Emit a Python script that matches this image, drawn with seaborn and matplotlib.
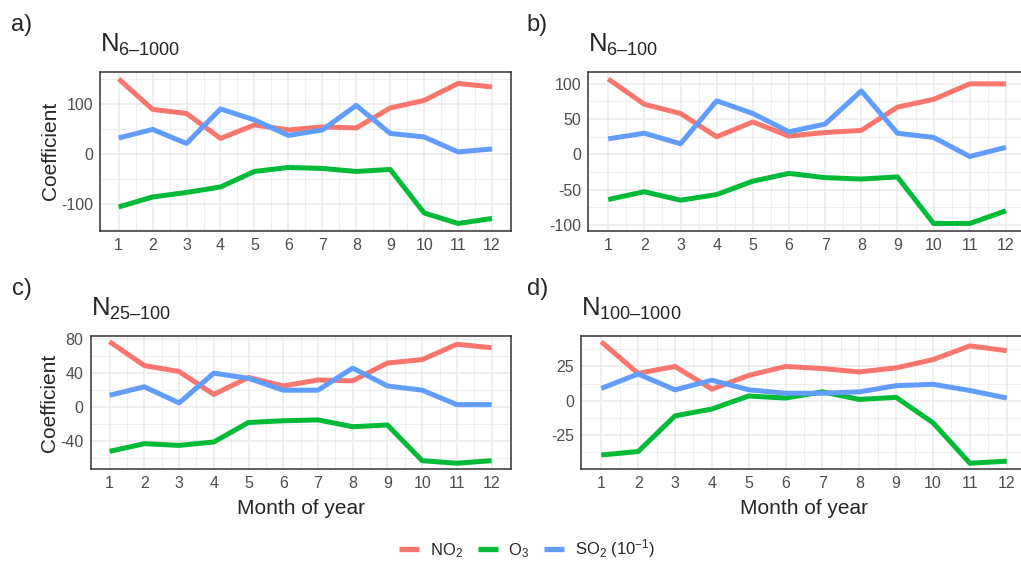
import numpy as np
import pandas as pd
import matplotlib
matplotlib.use("Agg")
import matplotlib.pyplot as plt
from matplotlib.lines import Line2D
import seaborn as sns

# ---------------- data ----------------
months = list(range(1, 13))
pollutants = ["NO2", "O3", "SO2"]

no2_a = [151, 90, 82, 32, 59, 49, 55, 53, 93, 108, 142, 135]
o3_a = [-105, -85, -76, -65, -34, -26, -28, -34, -30, -117, -138, -128]
so2_a = [33, 50, 22, 91, 69, 38, 49, 98, 42, 35, 5, 11]

no2_b = [107, 71, 58, 25, 46, 26, 31, 34, 67, 78, 100, 100]
o3_b = [-64, -53, -65, -57, -38, -27, -33, -35, -32, -98, -98, -80]
so2_b = [22, 30, 15, 76, 58, 32, 43, 90, 30, 24, -3, 10]

no2_c = [77, 49, 42, 15, 35, 25, 32, 31, 52, 56, 74, 70]
o3_c = [-52, -43, -45, -41, -18, -16, -15, -23, -21, -63, -66, -63]
so2_c = [14, 24, 5, 40, 34, 20, 20, 46, 25, 20, 3, 3]

no2_d = [43, 20, 25, 8.5, 18.5, 25, 23.5, 21, 24, 30, 40, 36.5]
o3_d = [-39.5, -37, -11, -6, 3.5, 2, 6.5, 1, 2.5, -16, -45.5, -44]
so2_d = [9, 19.5, 8, 15, 8, 5.5, 5.5, 6.5, 11, 12, 7.5, 2]

size_ranges = ["6\u20131000", "6\u2013100", "25\u2013100", "100\u20131000"]
titles = ["N$_{\\mathregular{" + s + "}}$" for s in size_ranges]
panel_tags = ["a)", "b)", "c)", "d)"]
yticks_major = [[-100, 0, 100], [-100, -50, 0, 50, 100], [-40, 0, 40, 80], [-25, 0, 25]]
legend_labels = [r"NO$_\mathregular{2}$", r"O$_\mathregular{3}$",
                 "SO$_\\mathregular{2}$ (10$^{\\mathregular{\u22121}}$)"]

colors = {"NO2": "#F8766D", "O3": "#00BA38", "SO2": "#619CFF"}

# ---------------- style ----------------
sns.set_style("white")
plt.rcParams["font.family"] = ["Liberation Sans", "DejaVu Sans"]
plt.rcParams["mathtext.fontset"] = "custom"
plt.rcParams["mathtext.rm"] = "Liberation Sans"
plt.rcParams["mathtext.it"] = "Liberation Sans:italic"
plt.rcParams["mathtext.bf"] = "Liberation Sans:bold"
plt.rcParams["axes.unicode_minus"] = False

W, H = 1021, 562
fig = plt.figure(figsize=(W / 100, H / 100), dpi=100)

def fx(px):
    return px / W

def fy(py):
    return 1 - py / H

# axes boxes in pixels (left, top, right, bottom)
boxes = [(100, 71.7, 510.7, 230.7),
         (588.3, 71.7, 1025.8, 230.7),
         (90.5, 335.7, 510.7, 469.3),
         (581, 335.7, 1027, 469.3)]

series = [(no2_a, o3_a, so2_a), (no2_b, o3_b, so2_b),
          (no2_c, o3_c, so2_c), (no2_d, o3_d, so2_d)]

tag_pos = [(11, 31), (526.5, 31), (12, 295), (526.5, 295)]

for i, (box, ser) in enumerate(zip(boxes, series)):
    l, t, r, b = box
    ax = fig.add_axes([fx(l), fy(b), fx(r) - fx(l), fy(t) - fy(b)])
    df = pd.DataFrame({
        "month": months * 3,
        "value": list(ser[0]) + list(ser[1]) + list(ser[2]),
        "pollutant": sum([[p] * 12 for p in pollutants], []),
    })
    sns.lineplot(data=df, x="month", y="value", hue="pollutant",
                 hue_order=pollutants, palette=colors, linewidth=3.6,
                 legend=False, ax=ax, solid_capstyle="butt",
                 solid_joinstyle="round")
    vals = df["value"].values
    rng = vals.max() - vals.min()
    ax.set_xlim(1 - 0.55, 12 + 0.55)

    ax.set_xticks(months)
    ax.set_xticks(np.arange(1.5, 12, 1.0), minor=True)
    yt = yticks_major[i]
    ax.set_yticks(yt)
    step = yt[1] - yt[0]
    ax.set_yticks(np.arange(yt[0] - step / 2, yt[-1] + step, step), minor=True)
    ax.set_ylim(vals.min() - 0.05 * rng, vals.max() + 0.05 * rng)

    ax.grid(which="major", color="#EBEBEB", linewidth=1.1)
    ax.grid(which="minor", color="#EBEBEB", linewidth=0.55)
    ax.set_axisbelow(True)
    for s in ax.spines.values():
        s.set_color("#333333")
        s.set_linewidth(1.1)
        s.set_visible(True)
    ax.tick_params(which="major", length=2.6, width=0.9, color="#333333",
                   labelsize=11.5, labelcolor="#4D4D4D", pad=2.5)
    ax.tick_params(which="minor", length=0)

    ax.set_title(titles[i], loc="left", fontsize=18.5, pad=14)
    ax.set_xlabel("Month of year" if i >= 2 else "", fontsize=15, labelpad=5.5)
    ax.set_ylabel("Coefficient" if i % 2 == 0 else "", fontsize=15, labelpad=1)

    tx, ty = tag_pos[i]
    fig.text(fx(tx), fy(ty), panel_tags[i], fontsize=17, ha="left", va="baseline")

handles = [Line2D([0], [0], color=colors[p], lw=3.8, solid_capstyle="butt")
           for p in pollutants]
fig.legend(handles, legend_labels, loc="center", ncol=3,
           bbox_to_anchor=(fx(527), fy(549)), frameon=False, fontsize=12,
           handlelength=1.2, handletextpad=0.65, columnspacing=0.9)

fig.savefig("out.png", dpi=100)
